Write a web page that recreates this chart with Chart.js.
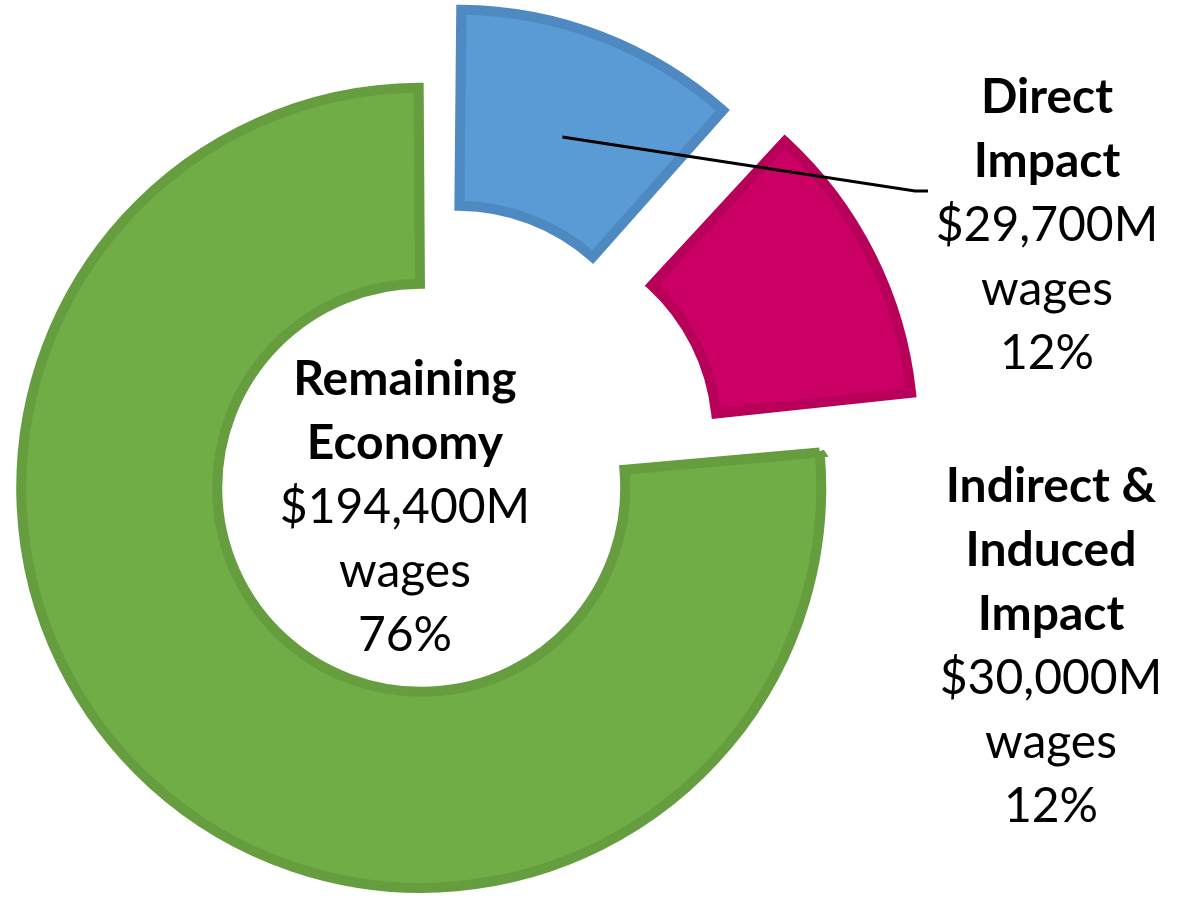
<!DOCTYPE html>
<html>
<head>
<meta charset="utf-8">
<title>Wages impact</title>
<script src="https://cdn.jsdelivr.net/npm/chart.js@4.4.1/dist/chart.umd.min.js"></script>
<style>
  html, body { margin: 0; padding: 0; background: #ffffff; }
  #myChart { display: block; }
</style>
</head>
<body>
<canvas id="myChart" width="1186" height="897"></canvas>
<script>
// data
const categories = ['Direct Impact', 'Indirect & Induced Impact', 'Remaining Economy'];
const categoryLines = [['Direct', 'Impact'], ['Indirect &', 'Induced', 'Impact'], ['Remaining', 'Economy']];
const wagesM = [29700, 30000, 194400];
const shareLabels = ['12%', '12%', '76%'];

// styling
const fillColors = ['#5b9bd5', '#cb0064', '#70ad47'];
const edgeColors = ['#4f89c2', '#b8005b', '#659d3f'];
const explodePx = [71, 91, 16];           // how far each slice is pulled out
const ringOuter = 400;
const ringCutout = 0.51;
const labelPos = [                          // first baseline of each label block
  { x: 1047, y: 113 },
  { x: 1051, y: 502 },
  { x: 405, y: 395 }
];
const lineGap = 64;
const fontFamily = 'Lato, "Open Sans", sans-serif';

// chart.js grows the radius of an offset slice; take that back out
const keepRadius = {
  id: 'keepRadius',
  afterDatasetsUpdate(chart) {
    const meta = chart.getDatasetMeta(0);
    meta.data.forEach((arc, i) => {
      const fix = 1 - Math.sin(Math.min(Math.PI, arc.circumference || 0));
      const extra = explodePx[i] * fix;
      arc.outerRadius -= extra;
      arc.innerRadius -= extra;
    });
  },
  beforeDatasetsDraw(chart) {
    // keep square corners but no spike where the outline closes
    chart.ctx.miterLimit = 2;
  }
};

const sliceLabels = {
  id: 'sliceLabels',
  afterDatasetsDraw(chart) {
    const ctx = chart.ctx;
    const meta = chart.getDatasetMeta(0);

    // leader line for the blue slice
    const arc = meta.data[0];
    const mid = (arc.startAngle + arc.endAngle) / 2;
    const cx = arc.x + Math.cos(mid) * explodePx[0];
    const cy = arc.y + Math.sin(mid) * explodePx[0];
    const inner = ringOuter * ringCutout;
    const r = inner + 0.45 * (ringOuter - inner);
    ctx.save();
    ctx.strokeStyle = '#000000';
    ctx.lineWidth = 3;
    ctx.beginPath();
    ctx.moveTo(cx + Math.cos(mid) * r, cy + Math.sin(mid) * r);
    ctx.lineTo(labelPos[0].x - 132, labelPos[0].y + 78);
    ctx.lineTo(labelPos[0].x - 119, labelPos[0].y + 78);
    ctx.stroke();

    ctx.fillStyle = '#000000';
    ctx.textAlign = 'center';
    ctx.textBaseline = 'alphabetic';
    categories.forEach((c, i) => {
      const p = labelPos[i];
      let y = p.y;
      ctx.font = 'bold 48px ' + fontFamily;
      categoryLines[i].forEach(t => { ctx.fillText(t, p.x, y); y += lineGap; });
      ctx.font = '48px ' + fontFamily;
      ctx.fillText('$' + wagesM[i].toLocaleString('en-US') + 'M', p.x, y); y += lineGap;
      ctx.fillText('wages', p.x, y); y += lineGap;
      ctx.fillText(shareLabels[i], p.x, y);
    });
    ctx.restore();
  }
};

const ctx = document.getElementById('myChart').getContext('2d');
const myChart = new Chart(ctx, {
  type: 'doughnut',
  data: {
    labels: categories,
    datasets: [{
      data: wagesM,
      backgroundColor: fillColors,
      borderColor: edgeColors,
      borderWidth: 10,
      borderJoinStyle: 'miter',
      offset: explodePx.map(v => v * 4)
    }]
  },
  options: {
    responsive: false,
    animation: false,
    events: [],
    radius: ringOuter,
    cutout: (ringCutout * 100) + '%',
    rotation: 0,
    layout: { padding: { left: 0, right: 322, top: 55, bottom: 0 } },
    plugins: {
      legend: { display: false },
      tooltip: { enabled: false }
    }
  },
  plugins: [keepRadius, sliceLabels]
});
</script>
</body>
</html>
